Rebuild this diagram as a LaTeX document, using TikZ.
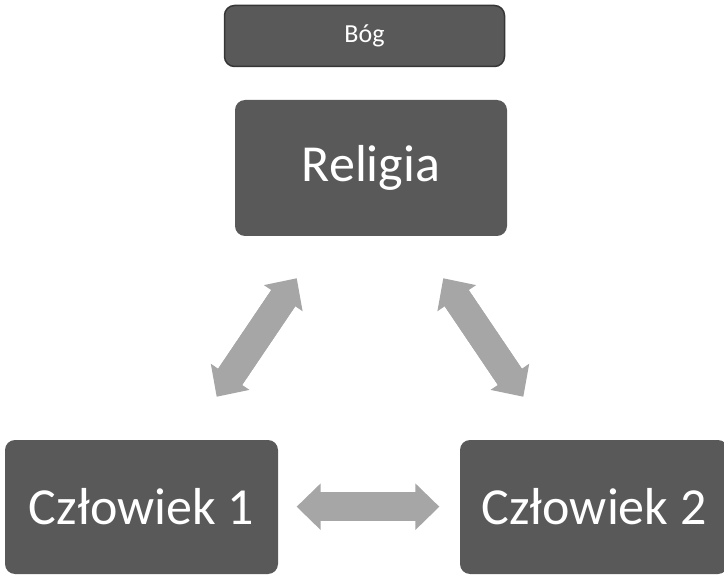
\documentclass[tikz,border=0pt]{standalone}
\usepackage{fontspec}
\setmainfont{Carlito}
\usetikzlibrary{arrows.meta}
\definecolor{boxfill}{HTML}{595959}
\definecolor{boxline}{HTML}{363636}
\definecolor{arrgray}{HTML}{A6A6A6}
\tikzset{
  darkbox/.style={rectangle, rounded corners=10pt, fill=boxfill, text=white, inner sep=0pt, font=\fontsize{52}{60}\selectfont},
  smallbox/.style={darkbox, draw=boxline, line width=1.5pt, font=\fontsize{26}{30}\selectfont},
  blockarr/.style={arrgray, line width=29pt,
    postaction={draw, arrows=-, shorten <=19pt, shorten >=19pt},
    {Triangle[width=46.7pt,length=24pt,line width=0pt]}-{Triangle[width=46.7pt,length=24pt,line width=0pt]}}
}
\begin{document}
\begin{tikzpicture}[x=1pt,y=-1pt]
\useasboundingbox (0,0) rectangle (724,575);
\node[smallbox, minimum width=280pt, minimum height=61pt] (bog) at (364.5,36) {Bóg};
\node[darkbox, minimum width=272pt, minimum height=136pt] (rel) at (371,168) {Religia};
\node[darkbox, minimum width=273pt, minimum height=134pt] (c1) at (141.5,507) {Człowiek 1};
\node[darkbox, minimum width=268pt, minimum height=134pt] (c2) at (594,507) {Człowiek 2};
\coordinate (l1) at (296.7,278.3);
\coordinate (l2) at (216.7,396.7);
\coordinate (r1) at (443.3,278.3);
\coordinate (r2) at (523.3,396.7);
\coordinate (h1) at (296.7,506.7);
\coordinate (h2) at (439.3,506.7);
\draw[blockarr] (l1) -- (l2);
\draw[blockarr] (r1) -- (r2);
\draw[blockarr] (h1) -- (h2);
\end{tikzpicture}
\end{document}
